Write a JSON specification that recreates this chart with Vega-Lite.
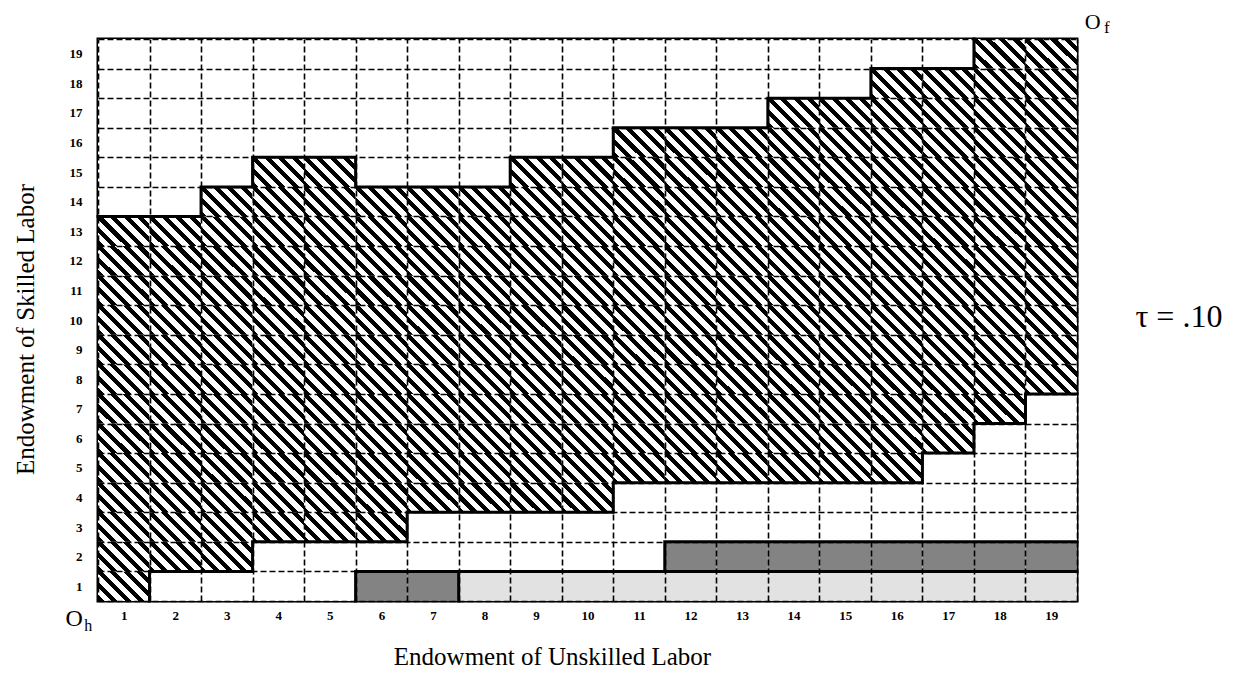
{
  "$schema": "https://vega.github.io/schema/vega-lite/v6.json",
  "width": 979,
  "height": 562,
  "autosize": {"type": "none"},
  "padding": {"left": 98, "top": 39, "right": 166, "bottom": 87},
  "background": "white",
  "view": {"stroke": "black", "strokeWidth": 3},
  "datasets": {
    "cells": [
      {"x":1,"y":1,"c":"H"},{"x":1,"y":2,"c":"H"},{"x":1,"y":3,"c":"H"},{"x":1,"y":4,"c":"H"},{"x":1,"y":5,"c":"H"},{"x":1,"y":6,"c":"H"},{"x":1,"y":7,"c":"H"},{"x":1,"y":8,"c":"H"},{"x":1,"y":9,"c":"H"},{"x":1,"y":10,"c":"H"},{"x":1,"y":11,"c":"H"},{"x":1,"y":12,"c":"H"},{"x":1,"y":13,"c":"H"},{"x":1,"y":14,"c":"W"},{"x":1,"y":15,"c":"W"},{"x":1,"y":16,"c":"W"},{"x":1,"y":17,"c":"W"},{"x":1,"y":18,"c":"W"},{"x":1,"y":19,"c":"W"},
      {"x":2,"y":1,"c":"W"},{"x":2,"y":2,"c":"H"},{"x":2,"y":3,"c":"H"},{"x":2,"y":4,"c":"H"},{"x":2,"y":5,"c":"H"},{"x":2,"y":6,"c":"H"},{"x":2,"y":7,"c":"H"},{"x":2,"y":8,"c":"H"},{"x":2,"y":9,"c":"H"},{"x":2,"y":10,"c":"H"},{"x":2,"y":11,"c":"H"},{"x":2,"y":12,"c":"H"},{"x":2,"y":13,"c":"H"},{"x":2,"y":14,"c":"W"},{"x":2,"y":15,"c":"W"},{"x":2,"y":16,"c":"W"},{"x":2,"y":17,"c":"W"},{"x":2,"y":18,"c":"W"},{"x":2,"y":19,"c":"W"},
      {"x":3,"y":1,"c":"W"},{"x":3,"y":2,"c":"H"},{"x":3,"y":3,"c":"H"},{"x":3,"y":4,"c":"H"},{"x":3,"y":5,"c":"H"},{"x":3,"y":6,"c":"H"},{"x":3,"y":7,"c":"H"},{"x":3,"y":8,"c":"H"},{"x":3,"y":9,"c":"H"},{"x":3,"y":10,"c":"H"},{"x":3,"y":11,"c":"H"},{"x":3,"y":12,"c":"H"},{"x":3,"y":13,"c":"H"},{"x":3,"y":14,"c":"H"},{"x":3,"y":15,"c":"W"},{"x":3,"y":16,"c":"W"},{"x":3,"y":17,"c":"W"},{"x":3,"y":18,"c":"W"},{"x":3,"y":19,"c":"W"},
      {"x":4,"y":1,"c":"W"},{"x":4,"y":2,"c":"W"},{"x":4,"y":3,"c":"H"},{"x":4,"y":4,"c":"H"},{"x":4,"y":5,"c":"H"},{"x":4,"y":6,"c":"H"},{"x":4,"y":7,"c":"H"},{"x":4,"y":8,"c":"H"},{"x":4,"y":9,"c":"H"},{"x":4,"y":10,"c":"H"},{"x":4,"y":11,"c":"H"},{"x":4,"y":12,"c":"H"},{"x":4,"y":13,"c":"H"},{"x":4,"y":14,"c":"H"},{"x":4,"y":15,"c":"H"},{"x":4,"y":16,"c":"W"},{"x":4,"y":17,"c":"W"},{"x":4,"y":18,"c":"W"},{"x":4,"y":19,"c":"W"},
      {"x":5,"y":1,"c":"W"},{"x":5,"y":2,"c":"W"},{"x":5,"y":3,"c":"H"},{"x":5,"y":4,"c":"H"},{"x":5,"y":5,"c":"H"},{"x":5,"y":6,"c":"H"},{"x":5,"y":7,"c":"H"},{"x":5,"y":8,"c":"H"},{"x":5,"y":9,"c":"H"},{"x":5,"y":10,"c":"H"},{"x":5,"y":11,"c":"H"},{"x":5,"y":12,"c":"H"},{"x":5,"y":13,"c":"H"},{"x":5,"y":14,"c":"H"},{"x":5,"y":15,"c":"H"},{"x":5,"y":16,"c":"W"},{"x":5,"y":17,"c":"W"},{"x":5,"y":18,"c":"W"},{"x":5,"y":19,"c":"W"},
      {"x":6,"y":1,"c":"D"},{"x":6,"y":2,"c":"W"},{"x":6,"y":3,"c":"H"},{"x":6,"y":4,"c":"H"},{"x":6,"y":5,"c":"H"},{"x":6,"y":6,"c":"H"},{"x":6,"y":7,"c":"H"},{"x":6,"y":8,"c":"H"},{"x":6,"y":9,"c":"H"},{"x":6,"y":10,"c":"H"},{"x":6,"y":11,"c":"H"},{"x":6,"y":12,"c":"H"},{"x":6,"y":13,"c":"H"},{"x":6,"y":14,"c":"H"},{"x":6,"y":15,"c":"W"},{"x":6,"y":16,"c":"W"},{"x":6,"y":17,"c":"W"},{"x":6,"y":18,"c":"W"},{"x":6,"y":19,"c":"W"},
      {"x":7,"y":1,"c":"D"},{"x":7,"y":2,"c":"W"},{"x":7,"y":3,"c":"W"},{"x":7,"y":4,"c":"H"},{"x":7,"y":5,"c":"H"},{"x":7,"y":6,"c":"H"},{"x":7,"y":7,"c":"H"},{"x":7,"y":8,"c":"H"},{"x":7,"y":9,"c":"H"},{"x":7,"y":10,"c":"H"},{"x":7,"y":11,"c":"H"},{"x":7,"y":12,"c":"H"},{"x":7,"y":13,"c":"H"},{"x":7,"y":14,"c":"H"},{"x":7,"y":15,"c":"W"},{"x":7,"y":16,"c":"W"},{"x":7,"y":17,"c":"W"},{"x":7,"y":18,"c":"W"},{"x":7,"y":19,"c":"W"},
      {"x":8,"y":1,"c":"L"},{"x":8,"y":2,"c":"W"},{"x":8,"y":3,"c":"W"},{"x":8,"y":4,"c":"H"},{"x":8,"y":5,"c":"H"},{"x":8,"y":6,"c":"H"},{"x":8,"y":7,"c":"H"},{"x":8,"y":8,"c":"H"},{"x":8,"y":9,"c":"H"},{"x":8,"y":10,"c":"H"},{"x":8,"y":11,"c":"H"},{"x":8,"y":12,"c":"H"},{"x":8,"y":13,"c":"H"},{"x":8,"y":14,"c":"H"},{"x":8,"y":15,"c":"W"},{"x":8,"y":16,"c":"W"},{"x":8,"y":17,"c":"W"},{"x":8,"y":18,"c":"W"},{"x":8,"y":19,"c":"W"},
      {"x":9,"y":1,"c":"L"},{"x":9,"y":2,"c":"W"},{"x":9,"y":3,"c":"W"},{"x":9,"y":4,"c":"H"},{"x":9,"y":5,"c":"H"},{"x":9,"y":6,"c":"H"},{"x":9,"y":7,"c":"H"},{"x":9,"y":8,"c":"H"},{"x":9,"y":9,"c":"H"},{"x":9,"y":10,"c":"H"},{"x":9,"y":11,"c":"H"},{"x":9,"y":12,"c":"H"},{"x":9,"y":13,"c":"H"},{"x":9,"y":14,"c":"H"},{"x":9,"y":15,"c":"H"},{"x":9,"y":16,"c":"W"},{"x":9,"y":17,"c":"W"},{"x":9,"y":18,"c":"W"},{"x":9,"y":19,"c":"W"},
      {"x":10,"y":1,"c":"L"},{"x":10,"y":2,"c":"W"},{"x":10,"y":3,"c":"W"},{"x":10,"y":4,"c":"H"},{"x":10,"y":5,"c":"H"},{"x":10,"y":6,"c":"H"},{"x":10,"y":7,"c":"H"},{"x":10,"y":8,"c":"H"},{"x":10,"y":9,"c":"H"},{"x":10,"y":10,"c":"H"},{"x":10,"y":11,"c":"H"},{"x":10,"y":12,"c":"H"},{"x":10,"y":13,"c":"H"},{"x":10,"y":14,"c":"H"},{"x":10,"y":15,"c":"H"},{"x":10,"y":16,"c":"W"},{"x":10,"y":17,"c":"W"},{"x":10,"y":18,"c":"W"},{"x":10,"y":19,"c":"W"},
      {"x":11,"y":1,"c":"L"},{"x":11,"y":2,"c":"W"},{"x":11,"y":3,"c":"W"},{"x":11,"y":4,"c":"W"},{"x":11,"y":5,"c":"H"},{"x":11,"y":6,"c":"H"},{"x":11,"y":7,"c":"H"},{"x":11,"y":8,"c":"H"},{"x":11,"y":9,"c":"H"},{"x":11,"y":10,"c":"H"},{"x":11,"y":11,"c":"H"},{"x":11,"y":12,"c":"H"},{"x":11,"y":13,"c":"H"},{"x":11,"y":14,"c":"H"},{"x":11,"y":15,"c":"H"},{"x":11,"y":16,"c":"H"},{"x":11,"y":17,"c":"W"},{"x":11,"y":18,"c":"W"},{"x":11,"y":19,"c":"W"},
      {"x":12,"y":1,"c":"L"},{"x":12,"y":2,"c":"D"},{"x":12,"y":3,"c":"W"},{"x":12,"y":4,"c":"W"},{"x":12,"y":5,"c":"H"},{"x":12,"y":6,"c":"H"},{"x":12,"y":7,"c":"H"},{"x":12,"y":8,"c":"H"},{"x":12,"y":9,"c":"H"},{"x":12,"y":10,"c":"H"},{"x":12,"y":11,"c":"H"},{"x":12,"y":12,"c":"H"},{"x":12,"y":13,"c":"H"},{"x":12,"y":14,"c":"H"},{"x":12,"y":15,"c":"H"},{"x":12,"y":16,"c":"H"},{"x":12,"y":17,"c":"W"},{"x":12,"y":18,"c":"W"},{"x":12,"y":19,"c":"W"},
      {"x":13,"y":1,"c":"L"},{"x":13,"y":2,"c":"D"},{"x":13,"y":3,"c":"W"},{"x":13,"y":4,"c":"W"},{"x":13,"y":5,"c":"H"},{"x":13,"y":6,"c":"H"},{"x":13,"y":7,"c":"H"},{"x":13,"y":8,"c":"H"},{"x":13,"y":9,"c":"H"},{"x":13,"y":10,"c":"H"},{"x":13,"y":11,"c":"H"},{"x":13,"y":12,"c":"H"},{"x":13,"y":13,"c":"H"},{"x":13,"y":14,"c":"H"},{"x":13,"y":15,"c":"H"},{"x":13,"y":16,"c":"H"},{"x":13,"y":17,"c":"W"},{"x":13,"y":18,"c":"W"},{"x":13,"y":19,"c":"W"},
      {"x":14,"y":1,"c":"L"},{"x":14,"y":2,"c":"D"},{"x":14,"y":3,"c":"W"},{"x":14,"y":4,"c":"W"},{"x":14,"y":5,"c":"H"},{"x":14,"y":6,"c":"H"},{"x":14,"y":7,"c":"H"},{"x":14,"y":8,"c":"H"},{"x":14,"y":9,"c":"H"},{"x":14,"y":10,"c":"H"},{"x":14,"y":11,"c":"H"},{"x":14,"y":12,"c":"H"},{"x":14,"y":13,"c":"H"},{"x":14,"y":14,"c":"H"},{"x":14,"y":15,"c":"H"},{"x":14,"y":16,"c":"H"},{"x":14,"y":17,"c":"H"},{"x":14,"y":18,"c":"W"},{"x":14,"y":19,"c":"W"},
      {"x":15,"y":1,"c":"L"},{"x":15,"y":2,"c":"D"},{"x":15,"y":3,"c":"W"},{"x":15,"y":4,"c":"W"},{"x":15,"y":5,"c":"H"},{"x":15,"y":6,"c":"H"},{"x":15,"y":7,"c":"H"},{"x":15,"y":8,"c":"H"},{"x":15,"y":9,"c":"H"},{"x":15,"y":10,"c":"H"},{"x":15,"y":11,"c":"H"},{"x":15,"y":12,"c":"H"},{"x":15,"y":13,"c":"H"},{"x":15,"y":14,"c":"H"},{"x":15,"y":15,"c":"H"},{"x":15,"y":16,"c":"H"},{"x":15,"y":17,"c":"H"},{"x":15,"y":18,"c":"W"},{"x":15,"y":19,"c":"W"},
      {"x":16,"y":1,"c":"L"},{"x":16,"y":2,"c":"D"},{"x":16,"y":3,"c":"W"},{"x":16,"y":4,"c":"W"},{"x":16,"y":5,"c":"H"},{"x":16,"y":6,"c":"H"},{"x":16,"y":7,"c":"H"},{"x":16,"y":8,"c":"H"},{"x":16,"y":9,"c":"H"},{"x":16,"y":10,"c":"H"},{"x":16,"y":11,"c":"H"},{"x":16,"y":12,"c":"H"},{"x":16,"y":13,"c":"H"},{"x":16,"y":14,"c":"H"},{"x":16,"y":15,"c":"H"},{"x":16,"y":16,"c":"H"},{"x":16,"y":17,"c":"H"},{"x":16,"y":18,"c":"H"},{"x":16,"y":19,"c":"W"},
      {"x":17,"y":1,"c":"L"},{"x":17,"y":2,"c":"D"},{"x":17,"y":3,"c":"W"},{"x":17,"y":4,"c":"W"},{"x":17,"y":5,"c":"W"},{"x":17,"y":6,"c":"H"},{"x":17,"y":7,"c":"H"},{"x":17,"y":8,"c":"H"},{"x":17,"y":9,"c":"H"},{"x":17,"y":10,"c":"H"},{"x":17,"y":11,"c":"H"},{"x":17,"y":12,"c":"H"},{"x":17,"y":13,"c":"H"},{"x":17,"y":14,"c":"H"},{"x":17,"y":15,"c":"H"},{"x":17,"y":16,"c":"H"},{"x":17,"y":17,"c":"H"},{"x":17,"y":18,"c":"H"},{"x":17,"y":19,"c":"W"},
      {"x":18,"y":1,"c":"L"},{"x":18,"y":2,"c":"D"},{"x":18,"y":3,"c":"W"},{"x":18,"y":4,"c":"W"},{"x":18,"y":5,"c":"W"},{"x":18,"y":6,"c":"W"},{"x":18,"y":7,"c":"H"},{"x":18,"y":8,"c":"H"},{"x":18,"y":9,"c":"H"},{"x":18,"y":10,"c":"H"},{"x":18,"y":11,"c":"H"},{"x":18,"y":12,"c":"H"},{"x":18,"y":13,"c":"H"},{"x":18,"y":14,"c":"H"},{"x":18,"y":15,"c":"H"},{"x":18,"y":16,"c":"H"},{"x":18,"y":17,"c":"H"},{"x":18,"y":18,"c":"H"},{"x":18,"y":19,"c":"H"},
      {"x":19,"y":1,"c":"L"},{"x":19,"y":2,"c":"D"},{"x":19,"y":3,"c":"W"},{"x":19,"y":4,"c":"W"},{"x":19,"y":5,"c":"W"},{"x":19,"y":6,"c":"W"},{"x":19,"y":7,"c":"W"},{"x":19,"y":8,"c":"H"},{"x":19,"y":9,"c":"H"},{"x":19,"y":10,"c":"H"},{"x":19,"y":11,"c":"H"},{"x":19,"y":12,"c":"H"},{"x":19,"y":13,"c":"H"},{"x":19,"y":14,"c":"H"},{"x":19,"y":15,"c":"H"},{"x":19,"y":16,"c":"H"},{"x":19,"y":17,"c":"H"},{"x":19,"y":18,"c":"H"},{"x":19,"y":19,"c":"H"}
    ],
    "edges": [
      {"s":"top","i":0,"x":0.5,"y":13.5},{"s":"top","i":1,"x":2.5,"y":13.5},{"s":"top","i":2,"x":2.5,"y":14.5},{"s":"top","i":3,"x":3.5,"y":14.5},{"s":"top","i":4,"x":3.5,"y":15.5},{"s":"top","i":5,"x":5.5,"y":15.5},{"s":"top","i":6,"x":5.5,"y":14.5},{"s":"top","i":7,"x":8.5,"y":14.5},{"s":"top","i":8,"x":8.5,"y":15.5},{"s":"top","i":9,"x":10.5,"y":15.5},{"s":"top","i":10,"x":10.5,"y":16.5},{"s":"top","i":11,"x":13.5,"y":16.5},{"s":"top","i":12,"x":13.5,"y":17.5},{"s":"top","i":13,"x":15.5,"y":17.5},{"s":"top","i":14,"x":15.5,"y":18.5},{"s":"top","i":15,"x":17.5,"y":18.5},{"s":"top","i":16,"x":17.5,"y":19.5},
      {"s":"bottom","i":0,"x":1.5,"y":0.5},{"s":"bottom","i":1,"x":1.5,"y":1.5},{"s":"bottom","i":2,"x":3.5,"y":1.5},{"s":"bottom","i":3,"x":3.5,"y":2.5},{"s":"bottom","i":4,"x":6.5,"y":2.5},{"s":"bottom","i":5,"x":6.5,"y":3.5},{"s":"bottom","i":6,"x":10.5,"y":3.5},{"s":"bottom","i":7,"x":10.5,"y":4.5},{"s":"bottom","i":8,"x":16.5,"y":4.5},{"s":"bottom","i":9,"x":16.5,"y":5.5},{"s":"bottom","i":10,"x":17.5,"y":5.5},{"s":"bottom","i":11,"x":17.5,"y":6.5},{"s":"bottom","i":12,"x":18.5,"y":6.5},{"s":"bottom","i":13,"x":18.5,"y":7.5},{"s":"bottom","i":14,"x":19.5,"y":7.5},
      {"s":"stipple","i":0,"x":5.5,"y":0.5},{"s":"stipple","i":1,"x":5.5,"y":1.5},{"s":"stipple","i":2,"x":19.5,"y":1.5},
      {"s":"split","i":0,"x":7.5,"y":0.5},{"s":"split","i":1,"x":7.5,"y":1.5},
      {"s":"dark2","i":0,"x":11.5,"y":1.5},{"s":"dark2","i":1,"x":11.5,"y":2.5},{"s":"dark2","i":2,"x":19.5,"y":2.5}
    ],
    "origins": [
      {"o":"h","main":"O","sub":"h","x":0,"y":0},
      {"o":"f","main":"O","sub":"f","x":20,"y":20}
    ]
  },
  "layer": [
    {
      "data": {"name": "cells"},
      "mark": {"type": "rect"},
      "encoding": {
        "x": {"field": "x", "type": "ordinal", "scale": {"domain": [1,2,3,4,5,6,7,8,9,10,11,12,13,14,15,16,17,18,19], "paddingInner": 0, "paddingOuter": 0},
          "axis": {"title": "Endowment of Unskilled Labor", "orient": "bottom", "tickBand": "extent", "grid": true, "gridDash": [6, 3], "gridColor": "black", "gridWidth": 1.6, "gridOpacity": 1, "ticks": false, "tickSize": 0, "domain": false, "labelAngle": 0, "labelFont": "Liberation Serif", "labelFontWeight": "bold", "labelFontSize": 13, "labelColor": "black", "labelPadding": 8, "titleFont": "Liberation Serif", "titleFontWeight": "normal", "titleFontSize": 25, "titleColor": "black", "titlePadding": 22, "titleX": 454, "zindex": 1}},
        "y": {"field": "y", "type": "ordinal", "scale": {"domain": [19,18,17,16,15,14,13,12,11,10,9,8,7,6,5,4,3,2,1], "paddingInner": 0, "paddingOuter": 0},
          "axis": {"title": "Endowment of Skilled Labor", "orient": "left", "tickBand": "extent", "grid": true, "gridDash": [6, 3], "gridColor": "black", "gridWidth": 1.6, "gridOpacity": 1, "ticks": false, "tickSize": 0, "domain": false, "labelFont": "Liberation Serif", "labelFontWeight": "bold", "labelFontSize": 13, "labelColor": "black", "labelPadding": 16, "titleFont": "Liberation Serif", "titleFontWeight": "normal", "titleFontSize": 25, "titleColor": "black", "titlePadding": 31, "titleY": 290, "zindex": 1}},
        "fill": {"field": "c", "type": "nominal", "scale": {"domain": ["H", "D", "L", "W"], "range": ["white", "#838383", "#e2e2e2", "white"]}, "legend": null}
      }
    },
    {
      "data": {"name": "cells"},
      "transform": [{"filter": "datum.c === 'H'"}],
      "mark": {"type": "rect", "fill": {"gradient": "linear", "x1": 0, "y1": 1, "x2": 1.184, "y2": 0.319, "stops": [
        {"offset": 0, "color": "black"}, {"offset": 0.075, "color": "black"}, {"offset": 0.075, "color": "white"}, {"offset": 0.1667, "color": "white"},
        {"offset": 0.1667, "color": "black"}, {"offset": 0.242, "color": "black"}, {"offset": 0.242, "color": "white"}, {"offset": 0.3333, "color": "white"},
        {"offset": 0.3333, "color": "black"}, {"offset": 0.408, "color": "black"}, {"offset": 0.408, "color": "white"}, {"offset": 0.5, "color": "white"},
        {"offset": 0.5, "color": "black"}, {"offset": 0.575, "color": "black"}, {"offset": 0.575, "color": "white"}, {"offset": 0.6667, "color": "white"},
        {"offset": 0.6667, "color": "black"}, {"offset": 0.742, "color": "black"}, {"offset": 0.742, "color": "white"}, {"offset": 0.8333, "color": "white"},
        {"offset": 0.8333, "color": "black"}, {"offset": 0.908, "color": "black"}, {"offset": 0.908, "color": "white"}, {"offset": 1, "color": "white"}
      ]}},
      "encoding": {
        "x": {"field": "x", "type": "ordinal", "scale": {"domain": [1,2,3,4,5,6,7,8,9,10,11,12,13,14,15,16,17,18,19], "paddingInner": 0, "paddingOuter": 0}, "axis": null},
        "y": {"field": "y", "type": "ordinal", "scale": {"domain": [19,18,17,16,15,14,13,12,11,10,9,8,7,6,5,4,3,2,1], "paddingInner": 0, "paddingOuter": 0},
          "axis": {"orient": "right", "labels": false, "ticks": false, "domain": false, "grid": false, "title": "τ = .10", "titleAngle": 0, "titleAlign": "left", "titleBaseline": "middle", "titleX": 58, "titleY": 277, "titleFont": "Liberation Serif", "titleFontSize": 32, "titleFontWeight": "normal", "titleColor": "black"}}
      }
    },
    {
      "data": {"name": "edges"},
      "mark": {"type": "line", "color": "black", "strokeWidth": 3, "strokeCap": "square", "strokeJoin": "miter"},
      "encoding": {
        "x": {"field": "x", "type": "quantitative", "scale": {"domain": [0.5, 19.5], "nice": false, "zero": false}, "axis": null},
        "y": {"field": "y", "type": "quantitative", "scale": {"domain": [0.5, 19.5], "nice": false, "zero": false}, "axis": null},
        "detail": {"field": "s"},
        "order": {"field": "i", "type": "quantitative"}
      }
    },
    {
      "data": {"name": "origins"},
      "transform": [{"filter": "datum.o === 'h'"}],
      "mark": {"type": "text", "font": "Liberation Serif", "fontSize": 24, "align": "center", "baseline": "middle", "dx": 2, "dy": 3, "color": "black"},
      "encoding": {
        "x": {"field": "x", "type": "quantitative", "scale": {"domain": [0.5, 19.5], "nice": false, "zero": false}, "axis": null},
        "y": {"field": "y", "type": "quantitative", "scale": {"domain": [0.5, 19.5], "nice": false, "zero": false}, "axis": null},
        "text": {"field": "main"}
      }
    },
    {
      "data": {"name": "origins"},
      "transform": [{"filter": "datum.o === 'h'"}],
      "mark": {"type": "text", "font": "Liberation Serif", "fontSize": 16, "align": "center", "baseline": "middle", "dx": 16, "dy": 10, "color": "black"},
      "encoding": {
        "x": {"field": "x", "type": "quantitative", "scale": {"domain": [0.5, 19.5], "nice": false, "zero": false}, "axis": null},
        "y": {"field": "y", "type": "quantitative", "scale": {"domain": [0.5, 19.5], "nice": false, "zero": false}, "axis": null},
        "text": {"field": "sub"}
      }
    },
    {
      "data": {"name": "origins"},
      "transform": [{"filter": "datum.o === 'f'"}],
      "mark": {"type": "text", "font": "Liberation Serif", "fontSize": 22, "align": "center", "baseline": "middle", "dx": -10, "dy": -2, "color": "black"},
      "encoding": {
        "x": {"field": "x", "type": "quantitative", "scale": {"domain": [0.5, 19.5], "nice": false, "zero": false}, "axis": null},
        "y": {"field": "y", "type": "quantitative", "scale": {"domain": [0.5, 19.5], "nice": false, "zero": false}, "axis": null},
        "text": {"field": "main"}
      }
    },
    {
      "data": {"name": "origins"},
      "transform": [{"filter": "datum.o === 'f'"}],
      "mark": {"type": "text", "font": "Liberation Serif", "fontSize": 17, "align": "center", "baseline": "middle", "dx": 4, "dy": 4, "color": "black"},
      "encoding": {
        "x": {"field": "x", "type": "quantitative", "scale": {"domain": [0.5, 19.5], "nice": false, "zero": false}, "axis": null},
        "y": {"field": "y", "type": "quantitative", "scale": {"domain": [0.5, 19.5], "nice": false, "zero": false}, "axis": null},
        "text": {"field": "sub"}
      }
    }
  ],
  "resolve": {"scale": {"x": "independent", "y": "independent", "fill": "independent"}}
}
